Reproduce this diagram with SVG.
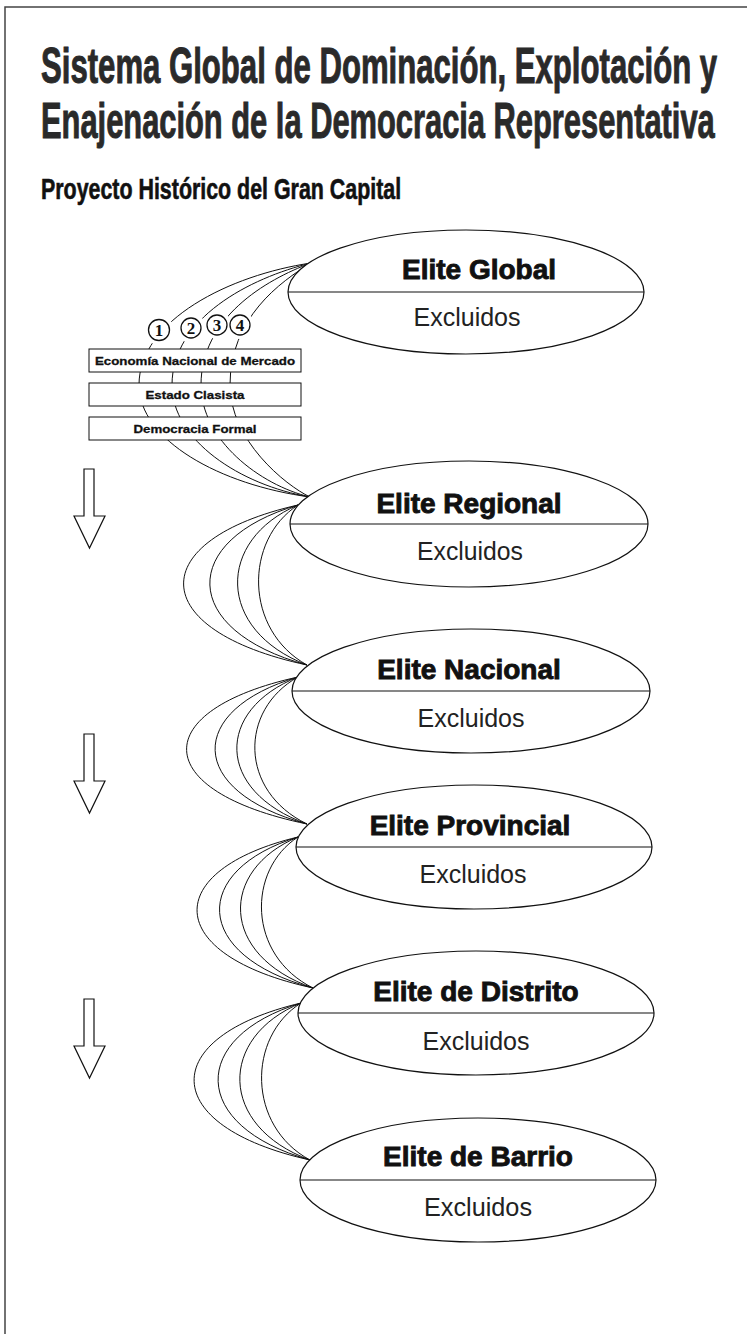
<svg xmlns="http://www.w3.org/2000/svg" width="747" height="1334" viewBox="0 0 747 1334">
<style>
.title{font-family:"Liberation Sans",Arial,sans-serif;font-weight:bold;fill:#2a2a2a;stroke:#2a2a2a;stroke-width:1;}
.lbl{font-family:"Liberation Sans",Arial,sans-serif;font-weight:bold;font-size:28px;fill:#111;stroke:#111;stroke-width:0.9;text-anchor:middle;}
.exc{font-family:"Liberation Sans",Arial,sans-serif;font-size:26px;fill:#222;text-anchor:middle;}
.ell{fill:#fff;stroke:#111;stroke-width:1.2;}
.div{stroke:#111;stroke-width:1.2;}
.con{fill:none;stroke:#111;stroke-width:1;}
.box{fill:#fff;stroke:#111;stroke-width:1;}
.btx{font-family:"Liberation Sans",Arial,sans-serif;font-weight:bold;font-size:11.5px;fill:#111;stroke:#111;stroke-width:0.3;text-anchor:middle;}
.halo{fill:#fff;stroke:none;}
.circ{fill:#fff;stroke:#111;stroke-width:1.3;}
.num{font-family:"Liberation Serif","Times New Roman",serif;font-weight:bold;font-size:17px;fill:#111;text-anchor:middle;}
.arr{fill:#fff;stroke:#111;stroke-width:1.2;stroke-linejoin:miter;}
</style>
<rect x="0" y="0" width="747" height="1334" fill="#fff"/>
<path d="M5,1334 V7 H747" fill="none" stroke="#444" stroke-width="1.5"/>

<g id="title">
<text class="title" transform="translate(41,83) scale(0.622,1)" x="0" y="0" font-size="50" textLength="1087" lengthAdjust="spacingAndGlyphs">Sistema Global de Dominación, Explotación y</text>
<text class="title" transform="translate(41,138) scale(0.617,1)" x="0" y="0" font-size="50" textLength="1092" lengthAdjust="spacingAndGlyphs">Enajenación de la Democracia Representativa</text>
<text class="title" transform="translate(41,199) scale(0.738,1)" x="0" y="0" font-size="29" textLength="488" lengthAdjust="spacingAndGlyphs" style="fill:#111;stroke:#111;stroke-width:0.6">Proyecto Histórico del Gran Capital</text>
</g>

<g id="connectors">
<path class="con" d="M311,263 C230,275 139,320 139,385 C139,440 220,485 310,497"/>
<path class="con" d="M311,263 C250,278 172,318 172,385 C172,440 240,485 310,497"/>
<path class="con" d="M311,263 C265,280 201,318 201,385 C201,440 260,485 310,497"/>
<path class="con" d="M311,263 C280,282 230,318 230,385 C230,440 285,485 310,497"/>

<path class="con" d="M298,505 C144,540 144,630 307,665"/>
<path class="con" d="M298,505 C179,540 179,630 307,665"/>
<path class="con" d="M298,505 C216,540 216,630 307,665"/>
<path class="con" d="M298,505 C244,540 244,630 307,665"/>

<path class="con" d="M298,677 C148,710 148,791 307,824"/>
<path class="con" d="M298,677 C186,710 186,791 307,824"/>
<path class="con" d="M298,677 C215,710 215,791 307,824"/>
<path class="con" d="M298,677 C239,710 239,791 307,824"/>

<path class="con" d="M298,837 C161,870 161,955 313,988"/>
<path class="con" d="M298,837 C191,870 191,955 313,988"/>
<path class="con" d="M298,837 C219,870 219,955 313,988"/>
<path class="con" d="M298,837 C247,870 247,955 313,988"/>

<path class="con" d="M301,1003 C157,1037 157,1126 310,1160"/>
<path class="con" d="M301,1003 C189,1037 189,1126 310,1160"/>
<path class="con" d="M301,1003 C218,1037 218,1126 310,1160"/>
<path class="con" d="M301,1003 C247,1037 247,1126 310,1160"/>
</g>

<g id="markers">
<circle class="halo" cx="159" cy="330" r="15"/>
<circle class="halo" cx="191" cy="328" r="15"/>
<circle class="halo" cx="217" cy="325" r="14"/>
<circle class="halo" cx="240" cy="325" r="14"/>
<g id="n1"><circle class="circ" cx="159" cy="330" r="10.5"/><text class="num" x="159" y="336">1</text></g>
<g id="n2"><circle class="circ" cx="191" cy="328" r="10"/><text class="num" x="191" y="334">2</text></g>
<g id="n3"><circle class="circ" cx="217" cy="325" r="10"/><text class="num" x="217" y="331">3</text></g>
<g id="n4"><circle class="circ" cx="240" cy="325" r="10"/><text class="num" x="240" y="331">4</text></g>
</g>

<g id="box-economia"><rect class="box" x="89" y="349" width="212" height="23"/><text class="btx" x="195" y="364.5" textLength="200" lengthAdjust="spacingAndGlyphs">Economía Nacional de Mercado</text></g>
<g id="box-estado"><rect class="box" x="89" y="383" width="212" height="23"/><text class="btx" x="195" y="398.5" textLength="99" lengthAdjust="spacingAndGlyphs">Estado Clasista</text></g>
<g id="box-democracia"><rect class="box" x="89" y="417" width="212" height="23"/><text class="btx" x="195" y="432.5" textLength="123" lengthAdjust="spacingAndGlyphs">Democracia Formal</text></g>

<g id="elite-global"><ellipse class="ell" cx="466" cy="292" rx="178" ry="62"/><line class="div" x1="288" y1="292" x2="644" y2="292"/><text class="lbl" x="479" y="279">Elite Global</text><text class="exc" x="467" y="326" textLength="107" lengthAdjust="spacingAndGlyphs">Excluidos</text></g>
<g id="elite-regional"><ellipse class="ell" cx="469" cy="524" rx="179" ry="63"/><line class="div" x1="290" y1="524" x2="648" y2="524"/><text class="lbl" x="469" y="513">Elite Regional</text><text class="exc" x="470" y="560" textLength="106" lengthAdjust="spacingAndGlyphs">Excluidos</text></g>
<g id="elite-nacional"><ellipse class="ell" cx="471" cy="691" rx="179" ry="62"/><line class="div" x1="292" y1="691" x2="650" y2="691"/><text class="lbl" x="469" y="679">Elite Nacional</text><text class="exc" x="471" y="727" textLength="107" lengthAdjust="spacingAndGlyphs">Excluidos</text></g>
<g id="elite-provincial"><ellipse class="ell" cx="474" cy="847" rx="178" ry="62"/><line class="div" x1="296" y1="847" x2="652" y2="847"/><text class="lbl" x="470" y="835">Elite Provincial</text><text class="exc" x="473" y="883" textLength="107" lengthAdjust="spacingAndGlyphs">Excluidos</text></g>
<g id="elite-distrito"><ellipse class="ell" cx="476" cy="1013" rx="178" ry="62"/><line class="div" x1="298" y1="1013" x2="654" y2="1013"/><text class="lbl" x="476" y="1001">Elite de Distrito</text><text class="exc" x="476" y="1050" textLength="107" lengthAdjust="spacingAndGlyphs">Excluidos</text></g>
<g id="elite-barrio"><ellipse class="ell" cx="478" cy="1180" rx="178" ry="62"/><line class="div" x1="300" y1="1180" x2="656" y2="1180"/><text class="lbl" x="478" y="1166">Elite de Barrio</text><text class="exc" x="478" y="1216" textLength="108" lengthAdjust="spacingAndGlyphs">Excluidos</text></g>

<g id="arrows">
<path class="arr" d="M84,469 H94 V516 H105 L89.5,548 L74,516 H84 Z"/>
<path class="arr" d="M84,734 H94 V781 H105 L89.5,813 L74,781 H84 Z"/>
<path class="arr" d="M84,999 H94 V1046 H105 L89.5,1078 L74,1046 H84 Z"/>
</g>
</svg>
